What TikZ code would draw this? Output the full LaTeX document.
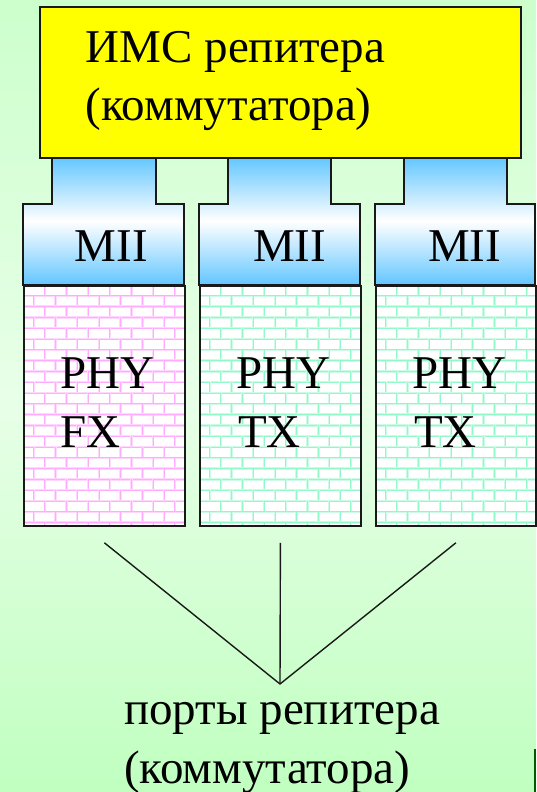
\documentclass[tikz,border=0pt]{standalone}
\usepackage{fontspec}
\setmainfont{Liberation Serif}
\usetikzlibrary{calc}
\definecolor{bgtop}{HTML}{CCFFCC}
\definecolor{bgmid}{HTML}{E8FFE8}
\definecolor{bgbot}{HTML}{C0FFC0}
\definecolor{miiblue}{HTML}{62C6FF}
\definecolor{pinkm}{HTML}{FF9CFF}
\definecolor{aquam}{HTML}{7FF5C0}
\definecolor{yel}{HTML}{FFFF00}
\definecolor{dkgreen}{HTML}{005A00}
\newcommand{\brickfill}[5]{%
  \begin{scope}
    \clip (#1,#2) rectangle (#3,#4);
    \fill[white] (#1,#2) rectangle (#3,#4);
    \foreach \r in {0,...,22} {
      \pgfmathsetmacro\yy{#2+\r*10.8}
      \draw[#5!40, line width=2.4pt] (#1,\yy) -- (#3,\yy);
      \draw[#5!85, line width=0.9pt] (#1,\yy) -- (#3,\yy);
      \foreach \k in {-1,...,8} {
        \pgfmathsetmacro\xx{#1+\k*21.7+mod(\r,2)*10.85}
        \draw[#5!40, line width=2.4pt] (\xx,\yy) -- (\xx,\yy+10.8);
        \draw[#5!85, line width=0.9pt] (\xx,\yy) -- (\xx,\yy+10.8);
      }
    }
  \end{scope}}
\begin{document}
\begin{tikzpicture}[x=1pt,y=-1pt,
  lbl/.style={font=\fontsize{47}{56}\selectfont, inner sep=0pt, anchor=base west},
  edge/.style={line width=1.8pt, draw=black!90},
  phybox/.style={edge, rectangle, anchor=north west, inner sep=0pt, minimum width=161pt, minimum height=240pt},
  conn/.style={line width=1.4pt, draw=black!90}]
\useasboundingbox (0,0) rectangle (536,792);
\shade[top color=bgtop, bottom color=bgbot, middle color=bgmid] (0,0) rectangle (536,792);

% MII shapes (neck + shoulder)
\foreach \nl/\nr/\bl/\br in {52/156/23/184, 228/331/199/360, 404/507/375/535} {
  \shade[top color=miiblue, bottom color=miiblue, middle color=white]
    (\nl,157) -- (\nl,204) -- (\bl,204) -- (\bl,285) -- (\br,285) -- (\br,204) -- (\nr,204) -- (\nr,157) -- cycle;
  \draw[edge] (\nl,157) -- (\nl,204) -- (\bl,204) -- (\bl,285) -- (\br,285) -- (\br,204) -- (\nr,204) -- (\nr,157);
}

% yellow chip
\node[edge, fill=yel, rectangle, anchor=north west, inner sep=0pt, minimum width=481pt, minimum height=151pt] (ims) at (39,6) {};
\node[lbl] (imsA) at (85.5,63) {ИМС репитера};
\node[lbl] (imsB) at (85.5,120) {(коммутатора)};

% MII labels
\node[lbl] (mii1) at (74.5,261) {MII};
\node[lbl] (mii2) at (253,261) {MII};
\node[lbl] (mii3) at (428,261) {MII};

% PHY bricks
\brickfill{23}{285}{184}{525}{pinkm}
\brickfill{199}{285}{360}{525}{aquam}
\brickfill{375}{285}{535}{525}{aquam}
\node[phybox] (phy1) at (23,285) {};
\node[phybox] (phy2) at (199,285) {};
\node[phybox, minimum width=160pt] (phy3) at (375,285) {};

\node[lbl] (p1a) at (60,388) {PHY};
\node[lbl] (p1b) at (60,447) {FX};
\node[lbl] (p2a) at (236,388) {PHY};
\node[lbl] (p2b) at (238,447) {TX};
\node[lbl] (p3a) at (412,388) {PHY};
\node[lbl] (p3b) at (414,447) {TX};

% connectors to ports
\coordinate (t1) at ($(phy1.south)+(0,16)$);
\coordinate (t2) at ($(phy2.south)+(0,16)$);
\coordinate (t3) at ($(phy3.south)+(0,16)$);
\coordinate (apex) at (280,684);
\draw[conn] (t1) -- (apex);
\draw[conn] (t2) -- (apex);
\draw[conn] (t3) -- (apex);

\node[lbl] (portsA) at (124,724) {порты репитера};
\node[lbl] (portsB) at (124,783) {(коммутатора)};

\draw[dkgreen, line width=1.5pt] (535.2,749) -- (535.2,792);
\end{tikzpicture}
\end{document}
